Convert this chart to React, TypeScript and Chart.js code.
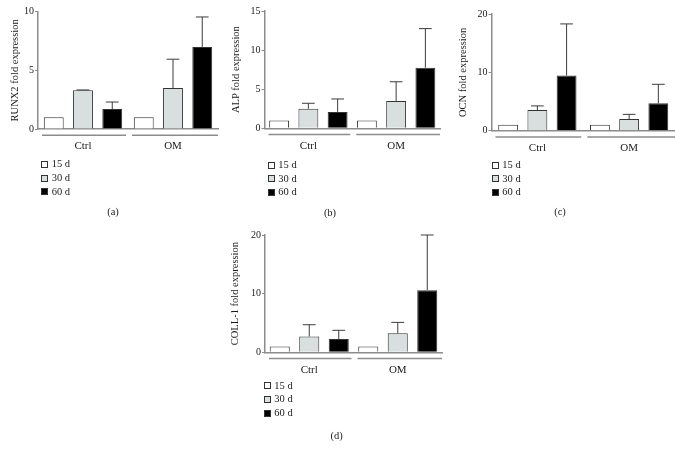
import React, { useEffect, useRef } from 'react';
import { Chart, registerables } from 'chart.js';

Chart.register(...registerables);

const FONT = '"Liberation Serif", "DejaVu Serif", serif';

const categories = ['Ctrl', 'OM'];
const seriesLabels = ['15 d', '30 d', '60 d'];
const seriesColors = ['#ffffff', '#d9dfdf', '#000000'];

// (a) RUNX2
const runx2D15 = [1.0, 1.0];
const runx2D30 = [3.3, 3.5];
const runx2D60 = [1.7, 7.0];
const runx2E15 = [0, 0];
const runx2E30 = [0.03, 2.45];
const runx2E60 = [0.6, 2.55];

// (b) ALP
const alpD15 = [1.0, 1.0];
const alpD30 = [2.5, 3.5];
const alpD60 = [2.1, 7.75];
const alpE15 = [0, 0];
const alpE30 = [0.7, 2.45];
const alpE60 = [1.65, 5.0];

// (c) OCN
const ocnD15 = [1.0, 1.0];
const ocnD30 = [3.55, 2.0];
const ocnD60 = [9.45, 4.7];
const ocnE15 = [0, 0];
const ocnE30 = [0.7, 0.8];
const ocnE60 = [8.85, 3.25];

// (d) COLL-1
const collD15 = [1.0, 1.0];
const collD30 = [2.7, 3.25];
const collD60 = [2.25, 10.6];
const collE15 = [0, 0];
const collE30 = [2.0, 1.85];
const collE60 = [1.5, 9.4];

type PanelCfg = {
  title: string;
  label: string;
  values: number[][];
  errors: number[][];
  max: number;
  step: number;
  div: { x: number; y: number; w: number; h: number };
  area: { l: number; r: number; t: number; b: number };
  titleX: number;
  catPct: number;
  legend: { x: number; y: number; textX: number };
  labelPos: { x: number; y: number };
};

const panels: PanelCfg[] = [
  {
    title: 'RUNX2 fold expression',
    label: '(a)',
    values: [runx2D15, runx2D30, runx2D60],
    errors: [runx2E15, runx2E30, runx2E60],
    max: 10,
    step: 5,
    div: { x: 0, y: 0, w: 222, h: 160 },
    area: { l: 38, r: 218, t: 11.7, b: 129 },
    titleX: 15,
    catPct: 0.975,
    legend: { x: 41, y: 164.3, textX: 51.7 },
    labelPos: { x: 113, y: 211.7 },
  },
  {
    title: 'ALP fold expression',
    label: '(b)',
    values: [alpD15, alpD30, alpD60],
    errors: [alpE15, alpE30, alpE60],
    max: 15,
    step: 5,
    div: { x: 222, y: 0, w: 222, h: 160 },
    area: { l: 264.5, r: 440, t: 11, b: 128.3 },
    titleX: 236,
    catPct: 1.0,
    legend: { x: 267.5, y: 165, textX: 278.3 },
    labelPos: { x: 330, y: 213 },
  },
  {
    title: 'OCN fold expression',
    label: '(c)',
    values: [ocnD15, ocnD30, ocnD60],
    errors: [ocnE15, ocnE30, ocnE60],
    max: 20,
    step: 10,
    div: { x: 444, y: 0, w: 231, h: 160 },
    area: { l: 491.5, r: 675, t: 14, b: 130.7 },
    titleX: 463.3,
    catPct: 0.955,
    legend: { x: 491.7, y: 165, textX: 502.3 },
    labelPos: { x: 560, y: 212 },
  },
  {
    title: 'COLL-1 fold expression',
    label: '(d)',
    values: [collD15, collD30, collD60],
    errors: [collE15, collE30, collE60],
    max: 20,
    step: 10,
    div: { x: 205, y: 220, w: 240, h: 160 },
    area: { l: 265, r: 442, t: 235, b: 352.3 },
    titleX: 235,
    catPct: 1.0,
    legend: { x: 264, y: 385.7, textX: 274.3 },
    labelPos: { x: 336.7, y: 435.7 },
  },
];

function BarPanel({ cfg }: { cfg: PanelCfg }) {
  const ref = useRef<HTMLCanvasElement>(null);

  useEffect(() => {
    const { div, area } = cfg;
    const titleFontSize = 10.5;
    const titlePadTop = cfg.titleX - div.x - (titleFontSize * 1.2) / 2;

    const errorBars = {
      id: 'errorBars',
      afterDatasetsDraw(chart: any) {
        const ctx = chart.ctx;
        const ys = chart.scales.y;
        ctx.save();
        ctx.strokeStyle = '#3c3c3c';
        ctx.lineWidth = 1;
        chart.data.datasets.forEach((ds: any, di: number) => {
          const meta = chart.getDatasetMeta(di);
          meta.data.forEach((bar: any, i: number) => {
            const e = cfg.errors[di][i];
            if (!e) return;
            const v = ds.data[i];
            const yTop = ys.getPixelForValue(v);
            const yErr = ys.getPixelForValue(v + e);
            const cap = bar.width * 0.32;
            ctx.beginPath();
            ctx.moveTo(bar.x, yTop);
            ctx.lineTo(bar.x, yErr);
            ctx.moveTo(bar.x - cap, yErr);
            ctx.lineTo(bar.x + cap, yErr);
            ctx.stroke();
          });
        });
        ctx.restore();
      },
    };

    const groupLines = {
      id: 'groupLines',
      afterDraw(chart: any) {
        const ctx = chart.ctx;
        const xs = chart.scales.x;
        const ca = chart.chartArea;
        const n = chart.data.labels.length;
        const w = (ca.right - ca.left) / n;
        const y = ca.bottom + 6.2;
        ctx.save();
        ctx.strokeStyle = '#8c8c8c';
        ctx.lineWidth = 1.5;
        for (let i = 0; i < n; i++) {
          const c = xs.getPixelForValue(i);
          const x0 = c - w / 2 + 4;
          const x1 = i === n - 1 ? ca.right : c + w / 2 - 2;
          ctx.beginPath();
          ctx.moveTo(x0, y);
          ctx.lineTo(x1, y);
          ctx.stroke();
        }
        ctx.restore();
      },
    };

    const chart = new Chart(ref.current as HTMLCanvasElement, {
      type: 'bar',
      data: {
        labels: categories,
        datasets: seriesLabels.map((lab, si) => ({
          label: lab,
          data: cfg.values[si],
          backgroundColor: seriesColors[si],
          borderColor: '#333333',
          borderWidth: 1,
          categoryPercentage: cfg.catPct,
          barPercentage: 0.68,
        })),
      },
      options: {
        animation: false,
        responsive: true,
        maintainAspectRatio: false,
        events: [],
        layout: {
          padding: {
            top: area.t - div.y,
            right: div.x + div.w - area.r,
            left: 0,
            bottom: 0,
          },
        },
        plugins: {
          legend: { display: false },
          tooltip: { enabled: false },
        },
        scales: {
          x: {
            grid: { display: false, drawTicks: false },
            border: { display: true, color: '#8c8c8c', width: 1.5 },
            ticks: {
              color: '#1a1a1a',
              padding: 11,
              font: { family: FONT, size: 11 },
            },
            afterFit(scale: any) {
              scale.height = div.y + div.h - area.b;
            },
          },
          y: {
            min: 0,
            max: cfg.max,
            ticks: {
              stepSize: cfg.step,
              color: '#1a1a1a',
              padding: 1,
              font: { family: FONT, size: 10 },
            },
            grid: {
              display: true,
              drawOnChartArea: false,
              drawTicks: true,
              tickLength: 3,
              color: '#8c8c8c',
              lineWidth: 1,
            },
            border: { display: true, color: '#8c8c8c', width: 1.5 },
            title: {
              display: true,
              text: cfg.title,
              color: '#1a1a1a',
              font: { family: FONT, size: titleFontSize },
              padding: { top: titlePadTop, bottom: 0 },
            },
            afterFit(scale: any) {
              scale.width = area.l - div.x;
            },
          },
        },
      },
      plugins: [errorBars, groupLines],
    } as any);
    return () => chart.destroy();
  }, [cfg]);

  return (
    <div
      style={{
        position: 'absolute',
        left: cfg.div.x,
        top: cfg.div.y,
        width: cfg.div.w,
        height: cfg.div.h,
      }}
    >
      <canvas ref={ref} />
    </div>
  );
}

function Legend({ cfg }: { cfg: PanelCfg }) {
  const spacing = 13.7;
  return (
    <>
      {seriesLabels.map((lab, i) => {
        const cy = cfg.legend.y + i * spacing;
        return (
          <React.Fragment key={lab}>
            <div
              style={{
                position: 'absolute',
                left: cfg.legend.x,
                top: cy - 3.5,
                width: 7,
                height: 7,
                boxSizing: 'border-box',
                border: '1px solid #333',
                background: seriesColors[i],
              }}
            />
            <div
              style={{
                position: 'absolute',
                left: cfg.legend.textX,
                top: cy - 7,
                height: 14,
                lineHeight: '14px',
                fontFamily: FONT,
                fontSize: 10.5,
                color: '#1a1a1a',
                whiteSpace: 'nowrap',
              }}
            >
              {lab}
            </div>
          </React.Fragment>
        );
      })}
      <div
        style={{
          position: 'absolute',
          left: cfg.labelPos.x - 20,
          width: 40,
          top: cfg.labelPos.y - 7,
          height: 14,
          lineHeight: '14px',
          textAlign: 'center',
          fontFamily: FONT,
          fontSize: 10.5,
          color: '#1a1a1a',
        }}
      >
        {cfg.label}
      </div>
    </>
  );
}

export default function App() {
  return (
    <div
      style={{
        position: 'absolute',
        left: 0,
        top: 0,
        width: 675,
        height: 458,
        overflow: 'hidden',
        background: '#ffffff',
      }}
    >
      {panels.map((p) => (
        <React.Fragment key={p.label}>
          <BarPanel cfg={p} />
          <Legend cfg={p} />
        </React.Fragment>
      ))}
    </div>
  );
}
